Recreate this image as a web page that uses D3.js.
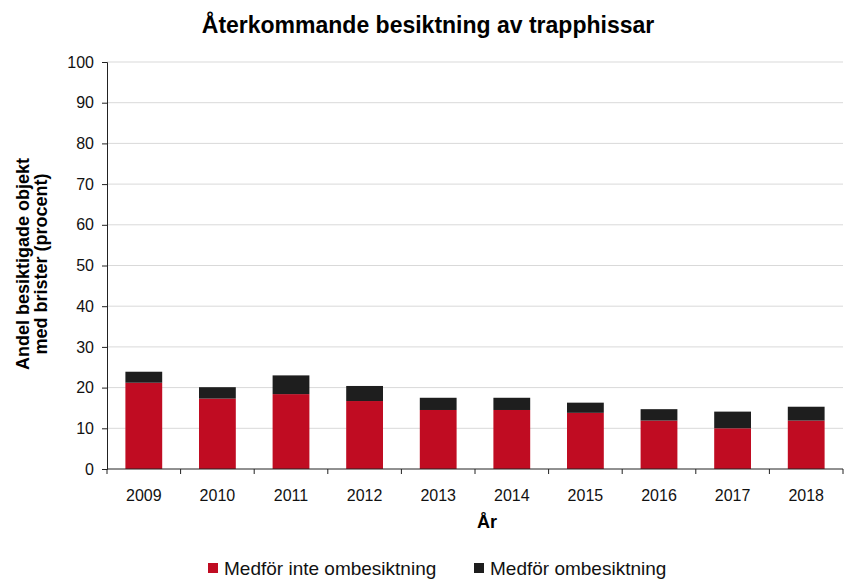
<!DOCTYPE html>
<meta charset="utf-8">
<script src="https://d3js.org/d3.v7.min.js"></script>
<style>
  body { margin: 0; background: #fff; }
  text { font-family: Arial, "Liberation Sans", sans-serif; }
</style>
<div id="my_dataviz"></div>
<script>
  // data
  var years = ["2009", "2010", "2011", "2012", "2013", "2014", "2015", "2016", "2017", "2018"];
  var utan = [21.2, 17.3, 18.4, 16.7, 14.5, 14.5, 13.8, 11.9, 10.0, 11.9];   // Medför inte ombesiktning
  var med = [2.7, 2.8, 4.6, 3.7, 3.0, 3.0, 2.5, 2.8, 4.1, 3.4];              // Medför ombesiktning
  var yTicks = [0, 10, 20, 30, 40, 50, 60, 70, 80, 90, 100];
  var seriesNames = ["Medför inte ombesiktning", "Medför ombesiktning"];
  var colors = ["#c00c22", "#1e1e1e"];

  var margin = {top: 62, right: 10, bottom: 110, left: 107},
      width = 853 - margin.left - margin.right,
      height = 579 - margin.top - margin.bottom;

  var root = d3.select("#my_dataviz")
    .append("svg")
      .attr("width", 853)
      .attr("height", 579);

  var svg = root.append("g")
      .attr("transform", "translate(" + margin.left + "," + margin.top + ")");

  root.append("text")
    .attr("x", 428).attr("y", 33)
    .attr("text-anchor", "middle")
    .style("font-size", "23px").style("font-weight", "bold")
    .text("Återkommande besiktning av trapphissar");

  var x = d3.scaleBand().domain(years).range([0, width]).paddingInner(0.5).paddingOuter(0.25);
  var y = d3.scaleLinear().domain([0, 100]).range([height, 0]);

  // gridlines
  svg.append("g").selectAll("line")
    .data(yTicks.filter(function (d) { return d > 0; }))
    .enter().append("line")
      .attr("x1", 0).attr("x2", width)
      .attr("y1", function (d) { return y(d); })
      .attr("y2", function (d) { return y(d); })
      .style("stroke", "#d9d9d9").style("stroke-width", 1);

  // stacked bars
  var rows = years.map(function (yr, i) { return {year: yr, a: utan[i], b: med[i]}; });
  var stacked = d3.stack().keys(["a", "b"])(rows);
  svg.append("g").selectAll("g")
    .data(stacked)
    .enter().append("g")
      .style("fill", function (d, i) { return colors[i]; })
    .selectAll("rect")
    .data(function (d) { return d; })
    .enter().append("rect")
      .attr("x", function (d) { return x(d.data.year); })
      .attr("width", x.bandwidth())
      .attr("y", function (d) { return y(d[1]); })
      .attr("height", function (d) { return y(d[0]) - y(d[1]); });

  // Y axis
  var yAxis = svg.append("g")
    .call(d3.axisLeft(y).tickValues(yTicks).tickSize(5).tickPadding(8));
  yAxis.select(".domain").style("stroke", "#222");
  yAxis.selectAll(".tick line").style("stroke", "#222");
  yAxis.selectAll("text").style("font-size", "16px").style("fill", "#111");

  // X axis: ticks between categories
  var xAxis = svg.append("g").attr("transform", "translate(0," + height + ")");
  xAxis.append("line").attr("x1", 0).attr("x2", width).style("stroke", "#222");
  var step = x.step();
  xAxis.selectAll(".sep")
    .data(d3.range(years.length + 1))
    .enter().append("line")
      .attr("x1", function (d) { return d * step; })
      .attr("x2", function (d) { return d * step; })
      .attr("y1", 0).attr("y2", 5)
      .style("stroke", "#222");
  xAxis.selectAll(".lbl")
    .data(years)
    .enter().append("text")
      .attr("x", function (d) { return x(d) + x.bandwidth() / 2; })
      .attr("y", 32)
      .attr("text-anchor", "middle")
      .style("font-size", "16px").style("fill", "#111")
      .text(function (d) { return d; });

  // axis titles
  root.append("text")
    .attr("x", 487).attr("y", 528)
    .attr("text-anchor", "middle")
    .style("font-size", "18px").style("font-weight", "bold")
    .text("År");

  var yl = root.append("text")
    .attr("transform", "translate(29,264) rotate(-90)")
    .attr("text-anchor", "middle")
    .style("font-size", "18px").style("font-weight", "bold");
  yl.append("tspan").attr("x", 0).attr("dy", 0).text("Andel besiktigade objekt");
  yl.append("tspan").attr("x", 0).attr("dy", 18).text("med brister (procent)");

  // legend
  var legendX = [208, 474];
  var lg = root.append("g").selectAll("g")
    .data(seriesNames)
    .enter().append("g")
      .attr("transform", function (d, i) { return "translate(" + legendX[i] + ",575)"; });
  lg.append("rect")
    .attr("x", 0).attr("y", -12).attr("width", 10).attr("height", 10)
    .style("fill", function (d, i) { return colors[i]; });
  lg.append("text")
    .attr("x", 16).attr("y", 0)
    .style("font-size", "19px").style("fill", "#111")
    .text(function (d) { return d; });
</script>
